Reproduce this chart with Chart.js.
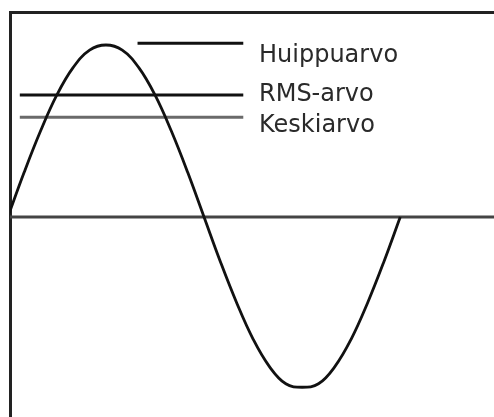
<!DOCTYPE html>
<html>
<head>
<meta charset="utf-8">
<script src="https://cdn.jsdelivr.net/npm/chart.js@4.4.0/dist/chart.umd.min.js"></script>
<style>
  html, body { margin: 0; padding: 0; background: #fff; }
  #wrap { width: 494px; height: 417px; }
</style>
</head>
<body>
<div id="wrap"><canvas id="c"></canvas></div>
<script>
// sine curve (x in degrees, y as fraction of peak)
const waveX = [0, 15, 30, 45, 60, 75, 90, 105, 120, 135, 150, 165, 180,
               195, 210, 225, 240, 255, 270, 285, 300, 315, 330, 345, 360];
const waveY = [0, 0.26, 0.5, 0.71, 0.87, 0.97, 1.0, 0.97, 0.87, 0.71, 0.5, 0.26, 0,
               -0.26, -0.5, -0.71, -0.87, -0.97, -0.99, -0.97, -0.87, -0.71, -0.5, -0.26, 0];

const levelNames = ['Huippuarvo', 'RMS-arvo', 'Keskiarvo'];
const levelValues = [1.01, 0.71, 0.58];
const levelStart = [119, 11, 11];
const levelEnd = [216, 216, 216];

const zeroLine = [2, 447];

const levelColors = ['#111', '#111', '#6a6a6a'];

const datasets = [{
    data: waveX.map((x, i) => ({ x: x, y: waveY[i] })),
    borderColor: '#111',
    borderWidth: 2.8,
    pointRadius: 0,
    tension: 0.4,
    fill: false
}, {
    data: [{ x: zeroLine[0], y: 0 }, { x: zeroLine[1], y: 0 }],
    borderColor: '#444',
    borderWidth: 3,
    pointRadius: 0
}];
levelNames.forEach((name, i) => {
    datasets.push({
        label: name,
        data: [{ x: levelStart[i], y: levelValues[i] }, { x: levelEnd[i], y: levelValues[i] }],
        borderColor: levelColors[i],
        borderWidth: 3,
        pointRadius: 0
    });
});

// text next to the level lines
const levelText = {
    id: 'levelText',
    afterDatasetsDraw(chart) {
        const ctx = chart.ctx;
        const yScale = chart.scales.y;
        const nudge = [12, 0, 9];
        ctx.save();
        ctx.font = '24px "DejaVu Sans"';
        ctx.fillStyle = '#2a2a2a';
        ctx.textBaseline = 'middle';
        levelNames.forEach((name, i) => {
            ctx.fillText(name, 259, yScale.getPixelForValue(levelValues[i]) + nudge[i]);
        });
        ctx.restore();
    }
};

new Chart(document.getElementById('c'), {
    type: 'line',
    data: { datasets },
    options: {
        responsive: true,
        maintainAspectRatio: false,
        animation: false,
        layout: { padding: { left: 10, top: 12, right: 0, bottom: 0 } },
        plugins: { legend: { display: false }, tooltip: { enabled: false } },
        scales: {
            x: {
                type: 'linear',
                position: 'top',
                min: 2,
                max: 446,
                grid: { display: false, drawTicks: false },
                ticks: { display: false },
                border: { display: true, color: '#222', width: 3 }
            },
            y: {
                min: -1.163,
                max: 1.192,
                grid: { display: false, drawTicks: false },
                ticks: { display: false },
                border: { display: true, color: '#222', width: 3 }
            }
        }
    },
    plugins: [levelText]
});
</script>
</body>
</html>
